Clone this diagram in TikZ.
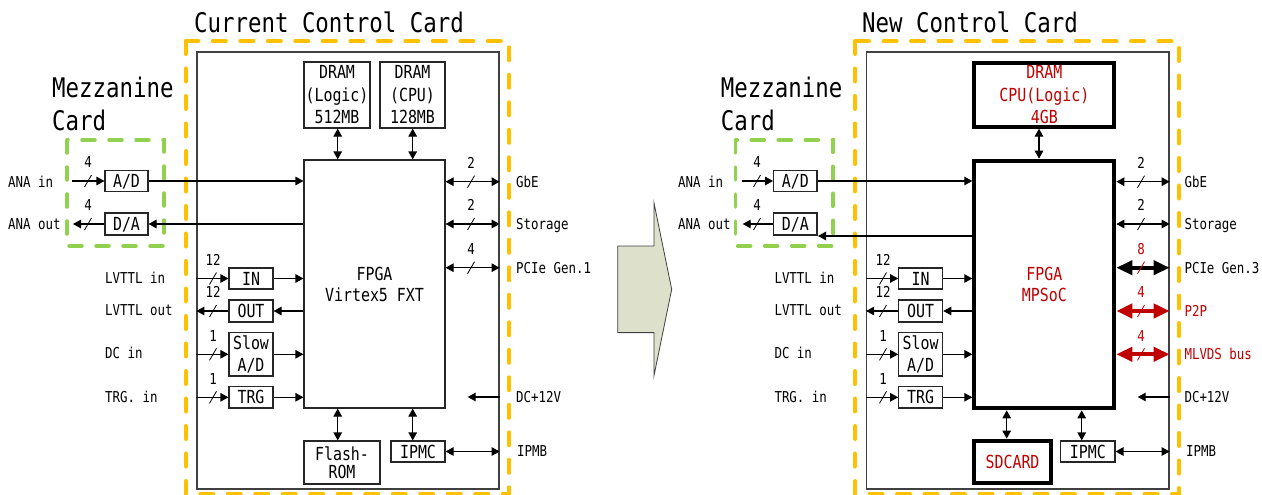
\documentclass[tikz,border=0pt]{standalone}
\usepackage{fontspec}
\newfontfamily\gm[FakeStretch=0.83]{DejaVu Sans Mono}
\usetikzlibrary{arrows.meta,calc}
\definecolor{cardor}{HTML}{FFC000}
\definecolor{mezgr}{HTML}{92D050}
\definecolor{dred}{HTML}{C00000}
\definecolor{arrfill}{HTML}{DDE1CB}
\definecolor{edgegray}{HTML}{404040}
\newcommand\busmark[4][black]{%
  \draw[slash,draw=#1] (#2-3.5,#3+6) -- (#2+3.5,#3-6);
  \node[num,text=#1] at (#2,#3-18.5) {#4};}
\begin{document}
\begin{tikzpicture}[x=1pt,y=-1pt,
  fs/.style={font=\gm\fontsize{15}{18}\selectfont},
  fm/.style={font=\gm\fontsize{18}{22.5}\selectfont},
  fl/.style={font=\gm\fontsize{27}{32.5}\selectfont},
  lbl/.style={fs,inner sep=0pt,text height=10.9pt,text depth=0pt},
  num/.style={lbl,anchor=center},
  ttl/.style={fl,inner sep=0pt,text height=19.7pt,text depth=0pt},
  blk/.style={draw=black!85,line width=1.1pt,inner sep=0pt,fm,align=center},
  blk1/.style={blk,text height=13.1pt,text depth=0pt},
  tblk/.style={draw=black,line width=4pt,inner sep=0pt,fm,align=center},
  cardbox/.style={draw=edgegray,line width=1.3pt,inner sep=0pt},
  orbox/.style={draw=cardor,line width=4pt,dash pattern=on 13pt off 14.5pt,line cap=round},
  mezbox/.style={draw=mezgr,line width=3.5pt,dash pattern=on 13pt off 14pt,line cap=round},
  con/.style={line width=1.1pt,-{Triangle[length=8pt,width=8.5pt]}},
  dcon/.style={line width=1.1pt,{Triangle[length=8pt,width=8.5pt]}-{Triangle[length=8pt,width=8.5pt]}},
  hcon/.style={line width=4pt,{Triangle[length=16pt,width=14pt]}-{Triangle[length=16pt,width=14pt]}},
  slash/.style={line width=0.8pt},
]
\useasboundingbox (0,0) rectangle (1262,495);

%% ================= LEFT: current card =================
\node[ttl] (t1) at (329,22.5) {Current Control Card};
\node[fl,inner sep=0pt,align=left,anchor=north west] (mz1) at (52,77) {Mezzanine\\Card};
\draw[orbox] (185.7,41) rectangle (509,494);
\node[cardbox,minimum width=302pt,minimum height=437pt] (card1) at (348,270.5) {};
\draw[mezbox] (67,140) rectangle (164,246);

\node[blk1,minimum width=43pt,minimum height=21pt] (ad1) at (126.5,181) {A/D};
\node[blk1,minimum width=43pt,minimum height=22pt] (da1) at (126.5,224) {D/A};
\node[blk,minimum width=66pt,minimum height=66pt] (dram1) at (337,95) {DRAM\\(Logic)\\512MB};
\node[blk,minimum width=65pt,minimum height=66pt] (dram2) at (412.5,95) {DRAM\\(CPU)\\128MB};
\node[blk,minimum width=141pt,minimum height=248pt,font=\gm\fontsize{18}{21}\selectfont] (fpga1) at (374.5,284) {FPGA\\Virtex5 FXT};
\node[blk1,minimum width=44pt,minimum height=21pt] (in1) at (251,278.5) {IN};
\node[blk1,minimum width=44pt,minimum height=22pt] (out1) at (251,311) {OUT};
\node[blk,minimum width=44pt,minimum height=43.3pt,font=\gm\fontsize{18}{22}\selectfont] (slow1) at (251,354.3) {Slow\\A/D};
\node[blk1,minimum width=44pt,minimum height=21.3pt] (trg1) at (251,397.3) {TRG};
\node[blk,minimum width=76pt,minimum height=43pt,font=\gm\fontsize{18}{17.5}\selectfont] (flash1) at (342,462.5) {Flash-\\ROM};
\node[blk1,minimum width=54pt,minimum height=21pt] (ipmc1) at (418,451.5) {IPMC};

\node[lbl,anchor=west] (anain1) at (8,181.7) {ANA in};
\node[lbl,anchor=west] (anaout1) at (8,224) {ANA out};
\node[lbl,anchor=west] (lvin1) at (105,278) {LVTTL in};
\node[lbl,anchor=west] (lvout1) at (105,310.5) {LVTTL out};
\node[lbl,anchor=west] (dcin1) at (105,353) {DC in};
\node[lbl,anchor=west] (trgin1) at (105,397) {TRG. in};
\node[lbl,anchor=west] (gbe1) at (516,181.7) {GbE};
\node[lbl,anchor=west] (sto1) at (516,224) {Storage};
\node[lbl,anchor=west] (pcie1) at (516,267.7) {PCIe Gen.1};
\node[lbl,anchor=west] (dc12a) at (516,397) {DC+12V};
\node[lbl,anchor=west] (ipmb1) at (517,451) {IPMB};

\coordinate (anaS1) at (72,181);
\coordinate (anaE1) at (73,224);
\coordinate (dcE1) at (467.7,397);
\coordinate (vx1) at (337.7,0);
\coordinate (vx2) at (412.7,0);

\draw[con] (anaS1) -- (ad1.west);
\draw[con] (ad1.east) -- (ad1.east -| fpga1.west);
\draw[con] (da1.east -| fpga1.west) -- (da1.east);
\draw[con] (da1.west) -- (anaE1);
\draw[dcon] (vx1 |- dram1.south) -- (vx1 |- fpga1.north);
\draw[dcon] (vx2 |- dram2.south) -- (vx2 |- fpga1.north);
\draw[dcon] (vx1 |- fpga1.south) -- (vx1 |- flash1.north);
\draw[dcon] (vx2 |- fpga1.south) -- (vx2 |- ipmc1.north);
\draw[dcon] (fpga1.east |- gbe1.west) -- (card1.east |- gbe1.west);
\draw[dcon] (fpga1.east |- sto1.west) -- (card1.east |- sto1.west);
\draw[dcon] (fpga1.east |- pcie1.west) -- (card1.east |- pcie1.west);
\draw[con] (card1.east |- dc12a.west) -- (dcE1);
\draw[dcon] (ipmc1.east) -- (ipmc1.east -| card1.east);
\draw[con] (card1.west |- in1.west) -- (in1.west);
\draw[con] (in1.east) -- (in1.east -| fpga1.west);
\draw[con] (out1.east -| fpga1.west) -- (out1.east);
\draw[con] (out1.west) -- (out1.west -| card1.west);
\draw[con] (card1.west |- slow1.west) -- (slow1.west);
\draw[con] (slow1.east) -- (slow1.east -| fpga1.west);
\draw[con] (card1.west |- trg1.west) -- (trg1.west);
\draw[con] (trg1.east) -- (trg1.east -| fpga1.west);

\busmark{88}{181}{4}
\busmark{88}{224}{4}
\busmark{213}{278.5}{12}
\busmark{213}{311}{12}
\busmark{213}{354.3}{1}
\busmark{213}{397.3}{1}
\busmark{471}{181.7}{2}
\busmark{471}{224}{2}
\busmark{471}{267.7}{4}

%% ================= middle arrow =================
\draw[draw=edgegray,line width=0.8pt,fill=arrfill] (617.7,246) -- (654,246) -- (654,203) -- (671.7,289.3) -- (654,375.6) -- (654,332.6) -- (617.7,332.6) -- cycle;

%% ================= RIGHT: new card =================
\node[ttl] (t2) at (970,22.5) {New Control Card};
\node[fl,inner sep=0pt,align=left,anchor=north west] (mz2) at (720.7,77) {Mezzanine\\Card};
\draw[orbox] (855,41) rectangle (1179,494);
\node[cardbox,minimum width=302.3pt,minimum height=437pt] (card2) at (1017.85,270.5) {};
\draw[mezbox] (735.7,140) rectangle (833,246);

\node[blk1,minimum width=43.3pt,minimum height=21pt] (ad2) at (795.3,181) {A/D};
\node[blk1,minimum width=43.3pt,minimum height=22pt] (da2) at (795.3,224) {D/A};
\node[tblk,text=dred,minimum width=140pt,minimum height=64pt] (dram3) at (1044.3,94.6) {DRAM\\CPU(Logic)\\4GB};
\node[tblk,text=dred,minimum width=140pt,minimum height=247.6pt,font=\gm\fontsize{18}{21}\selectfont] (fpga2) at (1044.3,284.5) {FPGA\\MPSoC};
\node[blk1,minimum width=44pt,minimum height=21pt] (in2) at (920.7,278.5) {IN};
\node[blk1,minimum width=44pt,minimum height=22pt] (out2) at (920.7,311) {OUT};
\node[blk,minimum width=44pt,minimum height=43.3pt,font=\gm\fontsize{18}{22}\selectfont] (slow2) at (920.7,354.3) {Slow\\A/D};
\node[blk1,minimum width=44pt,minimum height=21.3pt] (trg2) at (920.7,397.3) {TRG};
\node[tblk,text=dred,text height=13.1pt,text depth=0pt,minimum width=76.4pt,minimum height=42.3pt] (sd2) at (1012.5,461.8) {SDCARD};
\node[blk1,minimum width=54.3pt,minimum height=21pt] (ipmc2) at (1087.8,451.5) {IPMC};

\node[lbl,anchor=west] (anain2) at (678,181.7) {ANA in};
\node[lbl,anchor=west] (anaout2) at (678,224) {ANA out};
\node[lbl,anchor=west] (lvin2) at (774.3,278) {LVTTL in};
\node[lbl,anchor=west] (lvout2) at (774.3,310.5) {LVTTL out};
\node[lbl,anchor=west] (dcin2) at (774.3,353) {DC in};
\node[lbl,anchor=west] (trgin2) at (774.3,397) {TRG. in};
\node[lbl,anchor=west] (gbe2) at (1184.3,181.7) {GbE};
\node[lbl,anchor=west] (sto2) at (1184.3,224) {Storage};
\node[lbl,anchor=west] (pcie2) at (1184.3,267.7) {PCIe Gen.3};
\node[lbl,anchor=west,text=dred] (p2p2) at (1184.3,311) {P2P};
\node[lbl,anchor=west,text=dred] (mlvds2) at (1184.3,354.3) {MLVDS bus};
\node[lbl,anchor=west] (dc12b) at (1184.3,397) {DC+12V};
\node[lbl,anchor=west] (ipmb2) at (1186,451) {IPMB};

\coordinate (anaS2) at (741.7,181);
\coordinate (anaE2) at (742.7,224);
\coordinate (daE2) at (818,236);
\coordinate (dcE2) at (1137.7,397);
\coordinate (vx3) at (1039,0);
\coordinate (vx4) at (1006.7,0);
\coordinate (vx5) at (1081.7,0);

\draw[con] (anaS2) -- (ad2.west);
\draw[con] (ad2.east) -- (ad2.east -| fpga2.west);
\draw[con] (fpga2.west |- daE2) -- (daE2);
\draw[con] (da2.west) -- (anaE2);
\draw[dcon] (vx3 |- dram3.south) -- (vx3 |- fpga2.north);
\draw[dcon] (vx4 |- fpga2.south) -- (vx4 |- sd2.north);
\draw[dcon] (vx5 |- fpga2.south) -- (vx5 |- ipmc2.north);
\draw[dcon] (fpga2.east |- gbe2.west) -- (card2.east |- gbe2.west);
\draw[dcon] (fpga2.east |- sto2.west) -- (card2.east |- sto2.west);
\draw[hcon] (fpga2.east |- pcie2.west) -- (card2.east |- pcie2.west);
\draw[hcon,dred] (fpga2.east |- p2p2.west) -- (card2.east |- p2p2.west);
\draw[hcon,dred] (fpga2.east |- mlvds2.west) -- (card2.east |- mlvds2.west);
\draw[con] (card2.east |- dc12b.west) -- (dcE2);
\draw[dcon] (ipmc2.east) -- (ipmc2.east -| card2.east);
\draw[con] (card2.west |- in2.west) -- (in2.west);
\draw[con] (in2.east) -- (in2.east -| fpga2.west);
\draw[con] (out2.east -| fpga2.west) -- (out2.east);
\draw[con] (out2.west) -- (out2.west -| card2.west);
\draw[con] (card2.west |- slow2.west) -- (slow2.west);
\draw[con] (slow2.east) -- (slow2.east -| fpga2.west);
\draw[con] (card2.west |- trg2.west) -- (trg2.west);
\draw[con] (trg2.east) -- (trg2.east -| fpga2.west);

\busmark{757}{181}{4}
\busmark{757}{224}{4}
\busmark{883}{278.5}{12}
\busmark{883}{311}{12}
\busmark{883}{354.3}{1}
\busmark{883}{397.3}{1}
\busmark{1141}{181.7}{2}
\busmark{1141}{224}{2}
\busmark[dred]{1141}{267.7}{8}
\busmark[dred]{1141}{311}{4}
\busmark[dred]{1141}{354.3}{4}
\end{tikzpicture}
\end{document}
